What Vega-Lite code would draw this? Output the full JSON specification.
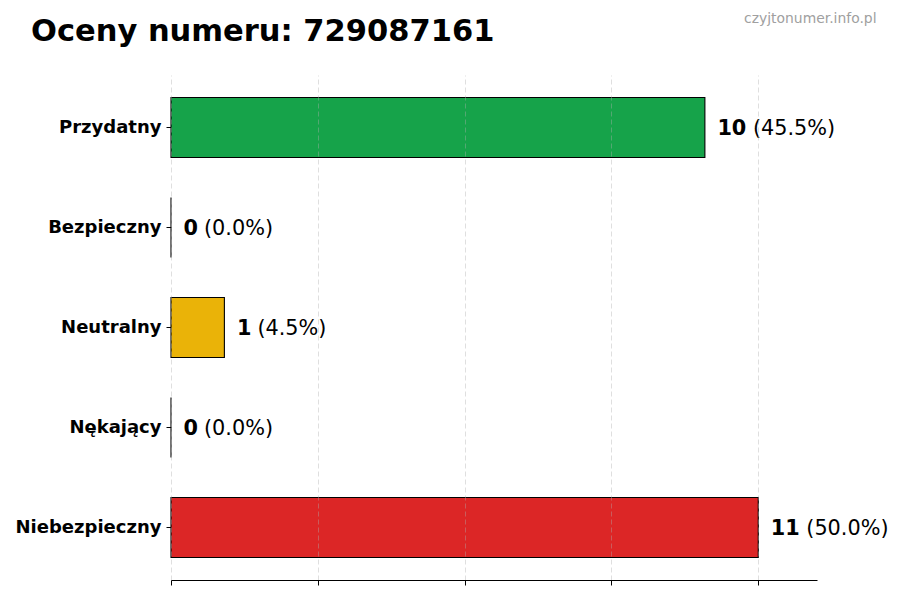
{
  "$schema": "https://vega.github.io/schema/vega-lite/v6.json",
  "width": 646,
  "height": 505,
  "autosize": {"type": "none"},
  "padding": {"left": 171, "top": 75, "right": 83, "bottom": 20},
  "background": "white",
  "title": {
    "text": "Oceny numeru: 729087161",
    "anchor": "start",
    "frame": "group",
    "dx": -140,
    "offset": -36,
    "font": "DejaVu Sans",
    "fontSize": 30.5,
    "fontWeight": "bold",
    "color": "black"
  },
  "config": {
    "view": {"stroke": null},
    "font": "DejaVu Sans"
  },
  "data": {
    "values": [
      {"rating": "Przydatny", "count": 10, "pct": "(45.5%)", "color": "#16a34a"},
      {"rating": "Bezpieczny", "count": 0, "pct": "(0.0%)", "color": "#2563eb"},
      {"rating": "Neutralny", "count": 1, "pct": "(4.5%)", "color": "#eab308"},
      {"rating": "Nękający", "count": 0, "pct": "(0.0%)", "color": "#f97316"},
      {"rating": "Niebezpieczny", "count": 11, "pct": "(50.0%)", "color": "#dc2626"}
    ]
  },
  "encoding": {
    "y": {
      "field": "rating",
      "type": "nominal",
      "sort": null,
      "scale": {"paddingInner": 0.4, "paddingOuter": 0.225},
      "axis": {
        "title": "czyjtonumer.info.pl",
        "titleAngle": 0,
        "titleAlign": "right",
        "titleBaseline": "alphabetic",
        "titleX": 705,
        "titleY": -53,
        "titleFont": "DejaVu Sans",
        "titleFontSize": 13.9,
        "titleFontWeight": "normal",
        "titleColor": "#a0a0a0",
        "domain": false,
        "ticks": true,
        "tickSize": 5,
        "tickColor": "black",
        "labelPadding": 5,
        "labelFont": "DejaVu Sans",
        "labelFontSize": 18,
        "labelFontWeight": "bold",
        "labelColor": "black",
        "grid": false
      }
    },
    "x": {
      "field": "count",
      "type": "quantitative",
      "scale": {"domain": [0, 12.1], "nice": false, "zero": true},
      "axis": {
        "title": null,
        "values": [0, 2.75, 5.5, 8.25, 11],
        "labels": false,
        "ticks": true,
        "tickSize": 5,
        "tickColor": "black",
        "domain": true,
        "domainColor": "black",
        "grid": true,
        "gridColor": "#b0b0b0",
        "gridOpacity": 0.4,
        "gridDash": [5, 3],
        "zindex": 1
      }
    }
  },
  "layer": [
    {
      "mark": {"type": "bar", "stroke": "black", "strokeWidth": 1.1},
      "encoding": {
        "color": {"field": "color", "type": "nominal", "scale": null}
      }
    },
    {
      "mark": {"type": "text", "align": "left", "baseline": "middle", "dx": 12.5, "dy": 1, "fontSize": 20.8, "fontWeight": "bold", "color": "black"},
      "encoding": {"text": {"field": "count", "type": "quantitative"}}
    },
    {
      "transform": [{"filter": "datum.count < 10"}],
      "mark": {"type": "text", "align": "left", "baseline": "middle", "dx": 33, "dy": 1, "fontSize": 20.8, "color": "black"},
      "encoding": {"text": {"field": "pct"}}
    },
    {
      "transform": [{"filter": "datum.count >= 10"}],
      "mark": {"type": "text", "align": "left", "baseline": "middle", "dx": 48, "dy": 1, "fontSize": 20.8, "color": "black"},
      "encoding": {"text": {"field": "pct"}}
    }
  ]
}
